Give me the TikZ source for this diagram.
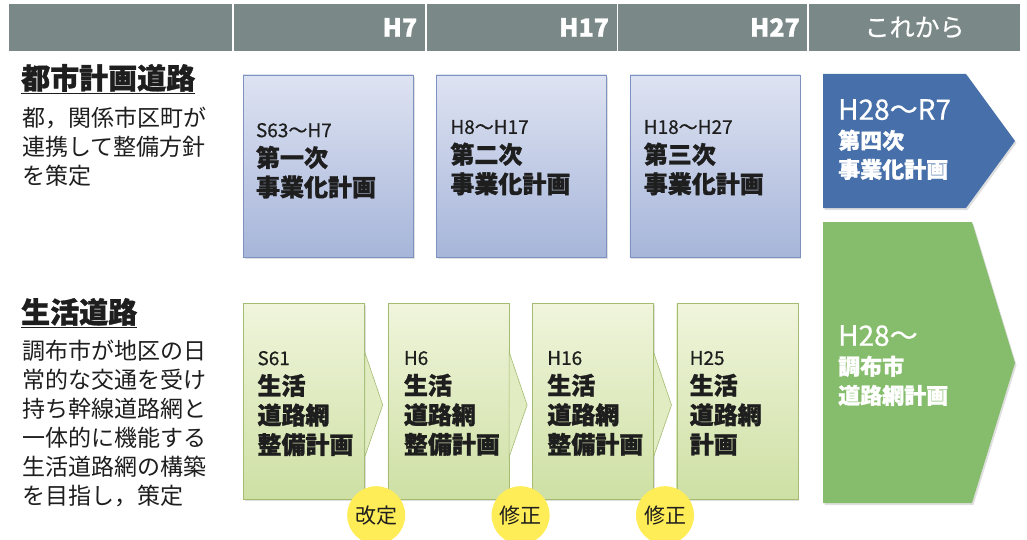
\documentclass[tikz,border=0pt]{standalone}
\usepackage{fontspec}
\setmainfont{Noto Sans CJK JP}[BoldFeatures={FakeBold=1.2}]
\newfontfamily\termfont{Noto Sans CJK JP}[FakeBold=0.5]
\usetikzlibrary{positioning}
\usetikzlibrary{shadows}
\definecolor{hdrGray}{RGB}{122,137,135}
\definecolor{planBtop}{RGB}{222,227,242}
\definecolor{planBbot}{RGB}{166,181,217}
\definecolor{planBline}{RGB}{126,146,194}
\definecolor{planGtop}{RGB}{240,245,220}
\definecolor{planGbot}{RGB}{206,224,164}
\definecolor{planGline}{RGB}{163,188,114}
\definecolor{nowBlue}{RGB}{71,112,171}
\definecolor{nowGreen}{RGB}{134,189,108}
\definecolor{stampYellow}{RGB}{255,237,87}
\definecolor{inkGray}{RGB}{30,30,30}
\newcommand{\Jigyo}{事業化計画}
\newcommand{\Seikatsu}{生活}
\newcommand{\Romou}{道路網}
\newcommand{\Seibi}{整備計画}
\newcommand{\Kaitei}{改定}
\newcommand{\Shusei}{修正}
\newcommand{\Term}[1]{{\fontsize{19}{29}\selectfont\termfont\mdseries #1}}
\newcommand{\TermL}[1]{{\fontsize{28}{29}\selectfont\termfont\mdseries #1}}
\tikzstyle{hdr} = [rectangle, fill=hdrGray, draw=white, line width=0.8pt, minimum height=48pt, inner xsep=8pt, inner ysep=0pt, text=white, font=\fontsize{25}{25}\selectfont\bfseries]
\tikzstyle{planB} = [rectangle, draw=planBline, top color=planBtop, bottom color=planBbot, minimum width=170pt, minimum height=182pt, inner sep=0pt, drop shadow={opacity=0.25, shadow xshift=1.5pt, shadow yshift=-2pt}]
\tikzstyle{planG} = [rectangle, draw=planGline, top color=planGtop, bottom color=planGbot, minimum width=121pt, minimum height=196pt, inner sep=0pt, drop shadow={opacity=0.25, shadow xshift=1.5pt, shadow yshift=-2pt}]
\tikzstyle{planTxt} = [anchor=north west, align=left, inner sep=0pt, text=inkGray, font=\fontsize{24}{29.5}\selectfont\bfseries]
\tikzstyle{nowTxt} = [anchor=north west, align=left, inner sep=0pt, text=white, font=\fontsize{22}{29}\selectfont\bfseries]
\tikzstyle{nowB} = [fill=nowBlue, drop shadow={opacity=0.25, shadow xshift=1.5pt, shadow yshift=-2pt}]
\tikzstyle{nowG} = [fill=nowGreen, drop shadow={opacity=0.25, shadow xshift=1.5pt, shadow yshift=-2pt}]
\tikzstyle{chev} = [draw=planGline, fill=planGtop!55!planGbot, line width=0.6pt]
\tikzstyle{stamp} = [circle, fill=stampYellow, minimum size=58pt, inner sep=0pt, text=inkGray, font=\fontsize{21}{21}\selectfont]
\tikzstyle{kind} = [anchor=base west, inner sep=0pt, text=inkGray, font=\fontsize{29}{29}\selectfont\bfseries]
\tikzstyle{desc} = [anchor=north west, align=left, inner sep=0pt, text=inkGray, font=\fontsize{23}{29}\selectfont]

\begin{document}
\begin{tikzpicture}[x=1pt, y=-1pt, node distance=23pt]
%\draw [help lines] (0,0) grid (1027,540);
\useasboundingbox (0,0) rectangle (1027,540);
\clip (0,0) rectangle (1027,540);

% Header
\node[hdr, anchor=north west, text width=208pt] (h0) at (8,3) {};
\node[hdr, right = 0pt of h0, text width=176pt, align=right] (h1) {H7};
\node[hdr, right = 0pt of h1, text width=175pt, align=right] (h2) {H17};
\node[hdr, right = 0pt of h2, text width=174pt, align=right] (h3) {H27};
\node[hdr, right = 0pt of h3, text width=196pt, align=center, font=\fontsize{25}{25}\selectfont\termfont] (h4) {これから};

% Row titles
\node[kind] (k1) at (21,89) {\underline{都市計画道路}};
\node[desc] (d1) at (22,107) {都，関係市区町が\\連携して整備方針\\を策定};
\node[kind] (k2) at (21,323) {\underline{生活道路}};
\node[desc] (d2) at (22,340) {調布市が地区の日\\常的な交通を受け\\持ち幹線道路網と\\一体的に機能する\\生活道路網の構築\\を目指し，策定};

% City road plans
\node[planB]                (b1) at (328,166) {};
\node[planB, right = of b1] (b2) {};
\node[planB, right = of b2] (b3) {};
\node[planTxt] (t1) at ([xshift=13pt, yshift=-48pt]b1.north west) {\Term{S63～H7}\\第一次\\\Jigyo};
\node[planTxt] (t2) at ([xshift=14pt, yshift=-45pt]b2.north west) {\Term{H8～H17}\\第二次\\\Jigyo};
\node[planTxt] (t3) at ([xshift=14pt, yshift=-45pt]b3.north west) {\Term{H18～H27}\\第三次\\\Jigyo};

\path[nowB] (823,74) -- (966,74) -- (1015,141) -- (966,208) -- (823,208) -- cycle;
\node[nowTxt] (n1) at (838,99) {\TermL{H28～R7}\\第四次\\\Jigyo};

% Local road plans
\node[planG]                (g1) at (304,401) {};
\node[planG, right = of g1] (g2) {};
\node[planG, right = of g2] (g3) {};
\node[planG, right = of g3] (g4) {};
\node[planTxt] (s1) at ([xshift=14pt, yshift=-48pt]g1.north west) {\Term{S61}\\\Seikatsu\\\Romou\\\Seibi};
\node[planTxt] (s2) at ([xshift=16pt, yshift=-48pt]g2.north west) {\Term{H6}\\\Seikatsu\\\Romou\\\Seibi};
\node[planTxt] (s3) at ([xshift=15pt, yshift=-48pt]g3.north west) {\Term{H16}\\\Seikatsu\\\Romou\\\Seibi};
\node[planTxt] (s4) at ([xshift=13pt, yshift=-48pt]g4.north west) {\Term{H25}\\\Seikatsu\\\Romou\\計画};

\path[nowG] (823,222) -- (972,222) -- (1015,363) -- (972,503) -- (823,503) -- cycle;
\node[nowTxt] (n2) at (838,325) {\TermL{H28～}\\調布市\\道路網計画};

% Chevrons
\path[chev] ([yshift=49pt]g1.east) -- ([xshift=18pt, yshift=-4pt]g1.east) -- ([yshift=-56pt]g1.east) -- cycle;
\path[chev] ([yshift=49pt]g2.east) -- ([xshift=18pt, yshift=-4pt]g2.east) -- ([yshift=-56pt]g2.east) -- cycle;
\path[chev] ([yshift=49pt]g3.east) -- ([xshift=18pt, yshift=-4pt]g3.east) -- ([yshift=-56pt]g3.east) -- cycle;

% Revisions
\node[stamp] (c1) at ([xshift=11.5pt, yshift=-16pt]g1.south east) {\Kaitei};
\node[stamp] (c2) at ([xshift=11.5pt, yshift=-16pt]g2.south east) {\Shusei};
\node[stamp] (c3) at ([xshift=11.5pt, yshift=-16pt]g3.south east) {\Shusei};
\end{tikzpicture}
\end{document}
